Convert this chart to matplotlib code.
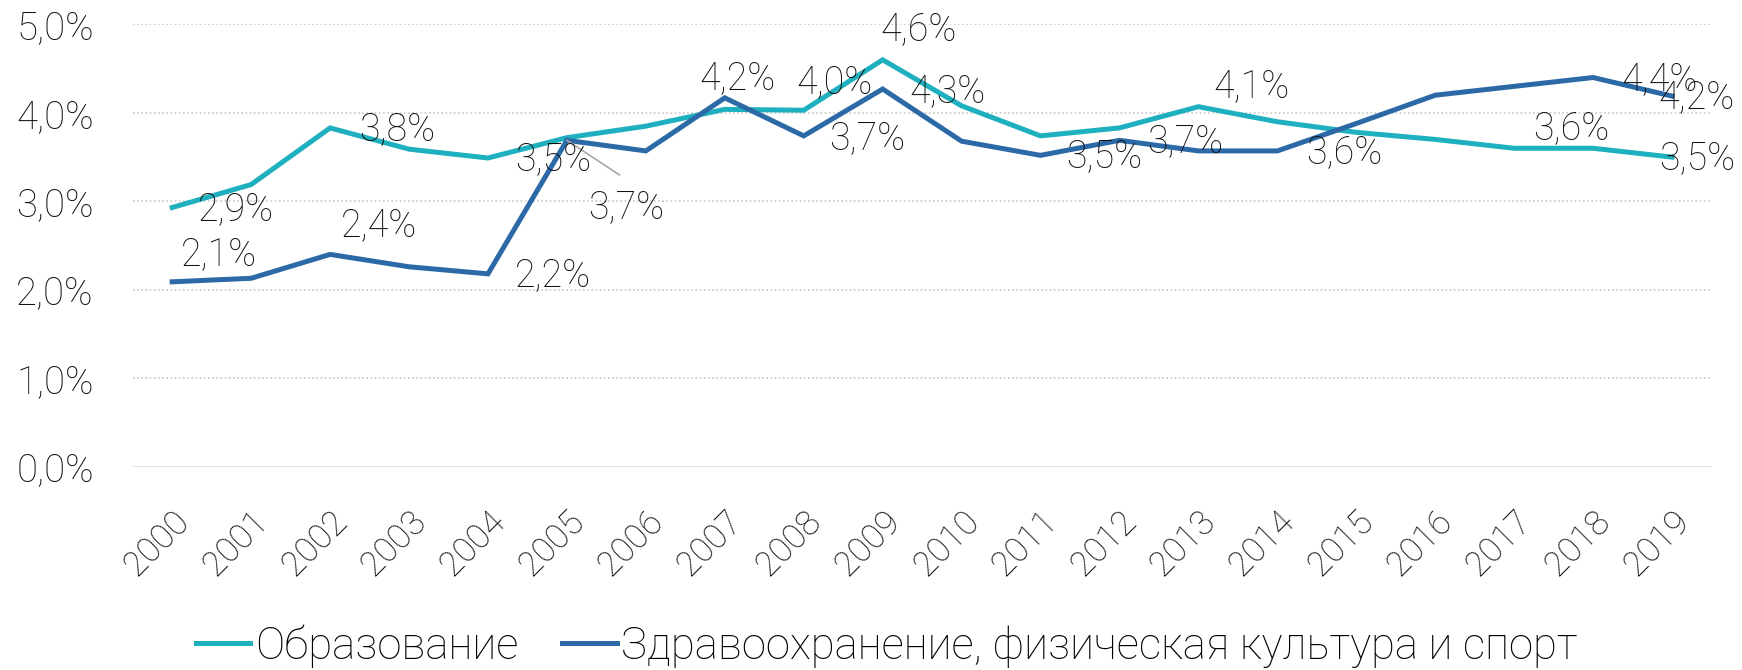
import numpy as np
import matplotlib
matplotlib.use('Agg')
from matplotlib import pyplot as plt
from matplotlib.transforms import ScaledTranslation

plt.rcParams['font.family'] = ['Roboto', 'DejaVu Sans']
plt.rcParams['font.weight'] = 'light'

years = [str(y) for y in range(2000, 2020)]
education = [2.93, 3.19, 3.83, 3.59, 3.49, 3.72, 3.85, 4.04, 4.03, 4.60,
             4.08, 3.74, 3.83, 4.07, 3.90, 3.78, 3.70, 3.60, 3.60, 3.50]
health = [2.09, 2.13, 2.40, 2.26, 2.18, 3.69, 3.57, 4.17, 3.74, 4.27,
          3.68, 3.52, 3.69, 3.57, 3.57, 3.88, 4.20, 4.30, 4.40, 4.19]
names = ['Образование', 'Здравоохранение, физическая культура и спорт']
colors = ['#1EB0BF', '#2C6AA7']

# data label placement: index -> offset of label centre (points)
edu_labels = {0: (46, -1), 2: (48, -1), 4: (47, -1), 8: (22, 20), 9: (26, 22),
              13: (38, 15), 18: (-16, 14), 19: (18, -1)}
health_labels = {0: (34, 20), 2: (35, 21), 4: (47, -1), 5: (43, -48), 7: (9, 14),
                 8: (46, -2), 9: (47, -2), 11: (46, -1), 12: (47, -1),
                 14: (48, -1), 18: (48, -1), 19: (18, -1)}

TXT = '#111111'

def fmt(v):
    return ('%.1f%%' % v).replace('.', ',')

fig = plt.figure(figsize=(17.42, 6.70), dpi=100)
ax = fig.add_axes([0.0762, 0.3035, 0.9063, 0.66])
x = np.arange(len(years))

ax.plot(x, education, color=colors[0], lw=3.6, label=names[0], solid_joinstyle='miter', zorder=3)
ax.plot(x, health, color=colors[1], lw=3.6, label=names[1], solid_joinstyle='miter', zorder=3)

for series, labels in ((education, edu_labels), (health, health_labels)):
    for i, (dx, dy) in labels.items():
        ax.annotate(fmt(series[i]), (x[i], series[i]), xytext=(dx, dy),
                    textcoords='offset points', ha='center', va='center',
                    fontsize=27, color=TXT, annotation_clip=False, zorder=4)

# leader line for the 2005 label
ax.annotate('', (x[5], health[5]), xytext=(38, -25), textcoords='offset points',
            arrowprops=dict(arrowstyle='-', color='#A6A6A6', lw=1.2, shrinkA=0, shrinkB=0))

ax.set_xlim(-0.5, len(years) - 0.5)
ax.set_ylim(0, 5)
ax.set_yticks(range(0, 6))
ax.set_yticklabels([fmt(v) for v in range(0, 6)], fontsize=27.5, color=TXT)
for v in range(1, 6):
    ax.axhline(v, color='#C8C8C8', lw=1.2, ls=(0, (1, 1.5)), zorder=1)
ax.axhline(0, color='#D9D9D9', lw=1.8, zorder=1)

ax.set_xticks(x)
ax.set_xticklabels(years, fontsize=25, color=TXT, rotation=45,
                   ha='right', va='top', rotation_mode='anchor')
shift = ScaledTranslation(4 / 100, 0, fig.dpi_scale_trans)
for lab in ax.get_xticklabels():
    lab.set_transform(lab.get_transform() + shift)
ax.tick_params(axis='x', length=0, pad=27)
ax.tick_params(axis='y', length=0, pad=28)
for s in ax.spines.values():
    s.set_visible(False)

fig.legend(loc='center', bbox_to_anchor=(0.509, 0.036), ncol=2, frameon=False,
           fontsize=31.5, handlelength=1.25, handletextpad=0.1, columnspacing=1.0)

fig.savefig('out.png', dpi=100)
